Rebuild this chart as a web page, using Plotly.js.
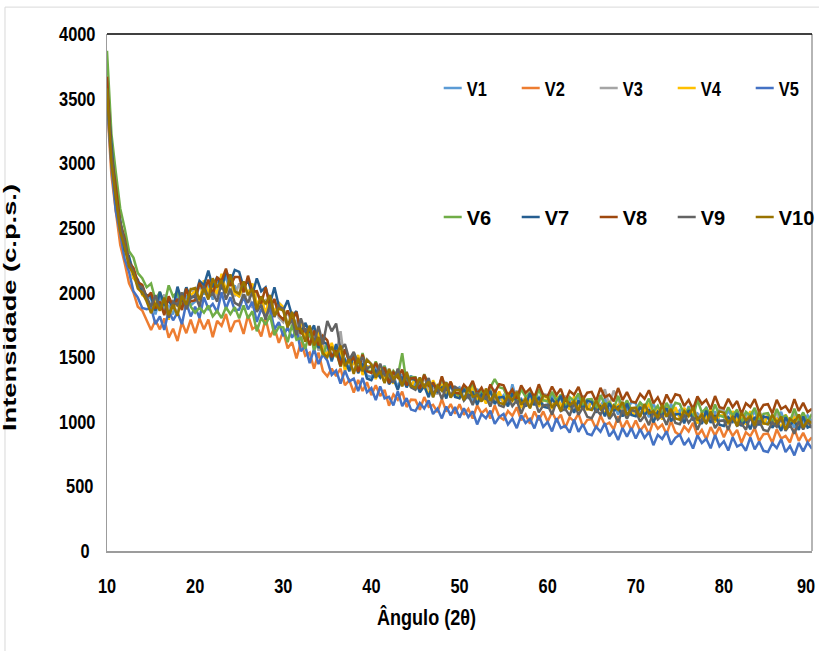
<!DOCTYPE html>
<html>
<head>
<meta charset="utf-8">
<script src="https://cdn.plot.ly/plotly-3.0.1.min.js"></script>
<style>
  html, body { margin: 0; padding: 0; background: #ffffff; }
  #chart { width: 819px; height: 651px; }
</style>
</head>
<body>
<div id="chart"></div>
<script>
// Angle grid (2θ): first angle and step of the measured points
const angleStart = 10;
const angleStep = 0.5;

const xTickVals = [10, 20, 30, 40, 50, 60, 70, 80, 90];
const yTickVals = [0, 500, 1000, 1500, 2000, 2500, 3000, 3500, 4000];

const seriesNames = ["V1", "V2", "V3", "V4", "V5", "V6", "V7", "V8", "V9", "V10"];
const seriesColors = ["#5B9BD5", "#ED7D31", "#A5A5A5", "#FFC000", "#4472C4",
                      "#70AD47", "#255E91", "#9E480E", "#636363", "#997300"];

// Intensities (c.p.s.), one value every 0.5° from 10° to 90°
const v1 = [
3580,3080,2730,2550,2340,2250,2110,2090,2000,1980,
1950,1830,1970,1865,1895,1830,1990,1875,1980,1900,
1930,2060,1985,2070,1945,2075,2040,2130,1985,2055,
1965,2050,1985,2065,1905,1955,1835,1955,1845,1920,
1885,1745,1785,1655,1775,1665,1690,1565,1690,1545,
1585,1465,1595,1475,1488,1402,1536,1392,1468,1356,
1346,1415,1364,1433,1310,1356,1266,1368,1287,1358,
1262,1342,1262,1310,1191,1280,1241,1306,1188,1246,
1266,1184,1228,1153,1254,1194,1225,1151,1252,1165,
1204,1131,1290,1160,1179,1128,1231,1138,1199,1127,
1132,1206,1140,1186,1085,1166,1135,1195,1094,1147,
1088,1155,1117,1184,1083,1129,1056,1151,1085,1152,
1142,1062,1108,1035,1137,1078,1110,1037,1139,1052,
1091,1018,1120,1047,1065,1013,1115,1021,1081,1008,
1012,1087,1022,1069,969,1051,1021,1082,982,1036,
978,1046,1009,1077,977,1024,952,1048,983,1051,
1000];

const v2 = [
3470,2910,2630,2370,2230,2070,2000,1890,1860,1790,
1710,1785,1715,1800,1650,1720,1625,1770,1685,1790,
1685,1800,1715,1790,1655,1780,1742,1834,1695,1775,
1784,1680,1825,1718,1740,1660,1798,1654,1728,1610,
1700,1568,1615,1490,1615,1510,1535,1410,1536,1392,
1352,1412,1352,1412,1282,1321,1226,1324,1238,1306,
1206,1283,1200,1246,1124,1211,1170,1234,1114,1171,
1169,1092,1191,1115,1130,1075,1175,1079,1137,1062,
1135,1054,1099,1025,1126,1066,1098,1025,1127,1040,
1016,1083,1045,1112,1011,1057,984,1079,1013,1080,
1000,1074,1008,1054,953,1034,1003,1063,962,1015,
1019,946,1048,975,993,941,1043,949,1009,936,
1010,930,976,903,1005,946,978,905,1007,920,
896,963,925,992,891,937,864,959,893,960,
880,955,890,937,837,919,889,950,850,904,
909,837,941,870,890,840,944,852,914,843,
880];

const v3 = [
3630,3060,2790,2530,2420,2260,2180,2060,2050,1970,
1880,1955,1890,1985,1845,1920,1830,1985,1910,2025,
2000,1915,2080,1990,2030,1970,2125,1995,2080,1970,
2070,1945,2000,1880,2010,1910,1940,1820,1950,1805,
1770,1855,1740,1785,1620,1715,1650,1715,1550,1610,
1510,1590,1520,1700,1440,1494,1378,1502,1398,1484,
1448,1349,1394,1303,1412,1338,1368,1278,1388,1283,
1322,1234,1346,1258,1275,1212,1325,1214,1280,1194,
1200,1272,1204,1248,1146,1226,1194,1253,1151,1204,
1145,1212,1174,1241,1141,1188,1116,1212,1147,1215,
1206,1126,1172,1099,1201,1142,1174,1101,1203,1116,
1155,1082,1184,1250,1129,1240,1179,1085,1145,1072,
1076,1150,1084,1130,1029,1110,1079,1139,1038,1091,
1032,1099,1061,1128,1027,1073,1000,1095,1029,1096,
1086,1007,1054,982,1085,1027,1060,988,1091,1005,
1045,973,1076,1004,1023,972,1075,982,1043,971,
1000];

const v4 = [
3570,3050,2700,2510,2335,2245,2110,2070,1980,1960,
1870,1960,1860,1925,1790,1920,1895,2000,1880,1980,
2010,1930,2095,2010,2050,1990,2145,2015,2100,1990,
1970,2055,1990,2070,1910,1960,1838,1956,1844,1920,
1886,1748,1790,1660,1780,1672,1696,1570,1696,1552,
1520,1610,1500,1550,1392,1496,1440,1516,1362,1430,
1422,1330,1439,1348,1361,1295,1405,1291,1354,1265,
1344,1248,1296,1208,1320,1249,1282,1195,1309,1207,
1183,1248,1208,1273,1170,1215,1141,1235,1168,1234,
1153,1227,1161,1207,1106,1187,1156,1216,1115,1168,
1172,1099,1201,1128,1146,1094,1196,1102,1162,1089,
1163,1083,1129,1056,1158,1099,1131,1058,1160,1073,
1049,1116,1078,1145,1044,1090,1017,1112,1046,1113,
1033,1107,1041,1087,986,1067,1036,1096,995,1048,
1052,980,1083,1011,1030,979,1082,989,1050,978,
1053,974,1022,951,1055,998,1032,961,1065,980,
995];

const v5 = [
3490,2980,2630,2460,2260,2160,2010,1960,1880,1870,
1880,1755,1815,1710,1860,1785,1845,1755,1920,1815,
1890,1802,1964,1874,1912,1848,2002,1874,1964,1862,
1868,1970,1870,1928,1772,1874,1814,1880,1716,1770,
1662,1732,1650,1718,1546,1584,1454,1564,1446,1520,
1473,1362,1396,1296,1396,1312,1334,1237,1340,1228,
1261,1167,1274,1181,1193,1126,1235,1121,1183,1094,
1083,1145,1102,1165,1060,1102,1026,1118,1049,1114,
1032,1104,1036,1081,979,1059,1027,1086,984,1036,
1060,979,1024,950,1051,991,1022,948,1049,961,
999,925,1026,952,969,916,1017,922,981,907,
896,962,923,989,887,932,858,952,885,951,
870,943,876,921,819,899,867,926,824,876,
900,820,866,793,895,836,868,795,897,810,
849,777,880,808,827,776,879,786,847,775,
766,834,797,865,765,812,740,836,771,839,
790];

const v6 = [
3870,3230,2930,2650,2500,2320,2270,2150,2110,2040,
2070,1940,2005,1905,2055,1970,2005,1890,2040,1890,
1844,1884,1844,1899,1815,1857,1802,1886,1832,1887,
1800,1900,1800,1855,1700,1805,1750,1825,1670,1735,
1730,1615,1750,1635,1650,1565,1700,1555,1630,1515,
1610,1485,1540,1425,1560,1468,1506,1394,1532,1400,
1388,1466,1384,1430,1308,1394,1352,1530,1292,1346,
1344,1256,1368,1280,1296,1232,1346,1236,1302,1216,
1208,1274,1235,1301,1199,1244,1171,1266,1330,1267,
1257,1177,1223,1150,1252,1193,1225,1152,1254,1167,
1157,1231,1165,1211,1110,1191,1160,1220,1119,1172,
1176,1103,1205,1132,1150,1098,1200,1106,1166,1093,
1083,1150,1112,1179,1078,1124,1051,1146,1080,1147,
1137,1057,1103,1030,1170,1073,1105,1032,1134,1047,
1037,1112,1047,1094,994,1076,1046,1107,1007,1061,
1066,995,1099,1028,1048,998,1102,1010,1072,1001,
1060];

const v7 = [
3580,3120,2720,2560,2330,2280,2140,2100,1990,1980,
1970,1860,2005,1905,1940,1880,2045,1930,2040,1960,
1970,2090,2055,2170,2040,2120,2025,2170,2080,2175,
2160,2040,2095,1980,2110,2010,2040,1915,2040,1895,
1860,1940,1820,1855,1680,1765,1690,1745,1570,1620,
1600,1475,1600,1475,1480,1390,1520,1375,1450,1335,
1322,1392,1342,1412,1290,1336,1246,1348,1266,1338,
1323,1228,1277,1190,1303,1232,1266,1180,1294,1192,
1182,1255,1188,1233,1131,1211,1179,1238,1136,1188,
1191,1119,1222,1150,1169,1118,1221,1128,1189,1117,
1108,1174,1135,1201,1099,1144,1070,1164,1097,1163,
1152,1071,1116,1042,1143,1083,1114,1040,1141,1053,
1042,1116,1050,1096,995,1076,1045,1105,1004,1057,
1061,988,1090,1017,1035,983,1085,991,1051,978,
968,1036,999,1067,967,1014,942,1038,973,1041,
1032,953,1001,929,1033,975,1009,937,1041,955,
970];

const v8 = [
3670,3070,2820,2540,2420,2230,2190,2080,2060,1960,
2000,1875,1930,1825,1970,1895,1950,1865,2030,1930,
1940,2075,2010,2100,1980,2115,2090,2185,2050,2120,
2120,2000,2130,2005,2010,1915,2040,1885,1950,1825,
1790,1860,1780,1850,1680,1720,1590,1705,1590,1665,
1630,1500,1550,1430,1560,1465,1500,1385,1520,1390,
1378,1456,1374,1420,1298,1384,1342,1404,1282,1336,
1339,1254,1364,1279,1298,1237,1352,1243,1310,1225,
1218,1286,1249,1317,1217,1264,1192,1288,1223,1291,
1282,1203,1250,1178,1281,1223,1257,1186,1290,1205,
1197,1272,1208,1255,1156,1238,1209,1270,1171,1225,
1231,1159,1262,1190,1209,1158,1261,1168,1229,1157,
1148,1215,1177,1244,1143,1189,1116,1211,1145,1212,
1202,1122,1168,1095,1197,1138,1170,1097,1199,1112,
1102,1177,1113,1160,1061,1143,1114,1175,1076,1130,
1136,1065,1170,1099,1120,1070,1175,1083,1146,1075,
1100];

const v9 = [
3570,3080,2730,2540,2390,2230,2160,2050,2040,1960,
1890,1980,1880,1945,1805,1930,1900,2000,1870,1960,
1980,1890,2050,1960,1995,1930,2080,1945,2030,1920,
1900,1985,1920,2005,1850,1905,1790,1915,1810,1895,
1870,1740,1790,1670,1800,1700,1730,1610,1740,1600,
1780,1700,1760,1560,1600,1480,1540,1450,1500,1410,
1434,1342,1450,1358,1370,1302,1411,1296,1357,1266,
1248,1318,1268,1338,1217,1264,1175,1278,1198,1270,
1248,1164,1206,1129,1227,1165,1194,1118,1217,1127,
1115,1188,1121,1166,1064,1145,1114,1174,1073,1126,
1130,1056,1157,1083,1100,1047,1148,1053,1112,1038,
1027,1094,1056,1123,1022,1068,995,1090,1024,1091,
1081,1001,1047,974,1076,1017,1049,976,1078,991,
981,1056,991,1038,938,1020,990,1051,951,1005,
1010,938,1041,969,988,937,1040,947,1008,936,
927,996,960,1029,930,978,907,1004,940,1009,
950];

const v10 = [
3580,3000,2740,2470,2350,2200,2150,2030,2000,1930,
1840,1920,1860,1960,1825,1905,1820,1975,1905,2025,
2035,1945,2030,1945,2110,2040,2095,1995,2140,2010,
1990,2085,1980,2030,1870,1970,1910,1980,1820,1875,
1860,1730,1850,1720,1720,1620,1745,1590,1655,1530,
1500,1580,1510,1590,1430,1485,1370,1495,1390,1478,
1444,1345,1390,1299,1408,1334,1364,1274,1384,1279,
1262,1342,1262,1310,1190,1279,1240,1305,1186,1244,
1243,1168,1268,1193,1209,1156,1257,1162,1221,1147,
1136,1203,1165,1232,1131,1177,1104,1199,1133,1200,
1190,1110,1156,1083,1185,1126,1158,1085,1187,1100,
1090,1164,1098,1144,1043,1124,1093,1153,1052,1105,
1109,1036,1138,1065,1083,1031,1133,1039,1099,1026,
1016,1083,1045,1112,1011,1057,984,1079,1013,1080,
1070,991,1038,966,1069,1011,1044,972,1075,989,
980,1055,991,1039,940,1023,994,1056,957,1012,
990];

const seriesValues = [v1, v2, v3, v4, v5, v6, v7, v8, v9, v10];

const baseFont = '"Liberation Sans", Arial, sans-serif';

const traces = seriesNames.map((name, i) => ({
  type: 'scatter',
  mode: 'lines',
  name: name,
  y: seriesValues[i],
  x0: angleStart,
  dx: angleStep,
  line: { color: seriesColors[i], width: 2.5 },
  legend: i < 5 ? 'legend' : 'legend2'
}));

const legendCommon = {
  orientation: 'h',
  xanchor: 'left',
  yanchor: 'middle',
  bgcolor: 'rgba(0,0,0,0)',
  borderwidth: 0,
  font: { family: baseFont, size: 20, color: '#000000', weight: 'bold' },
  entrywidth: 33,
  entrywidthmode: 'pixels',
  itemwidth: 30,
  tracegroupgap: 0
};

const layout = {
  width: 819,
  height: 651,
  margin: { l: 107, r: 7, t: 34, b: 100, pad: 0, autoexpand: false },
  paper_bgcolor: '#ffffff',
  plot_bgcolor: '#ffffff',
  showlegend: true,
  legend: Object.assign({}, legendCommon, { x: 0.4535, y: 0.8956 }),
  legend2: Object.assign({}, legendCommon, { x: 0.4535, y: 0.646 }),
  xaxis: {
    range: [10, 90],
    tickvals: xTickVals,
    ticktext: xTickVals.map(String),
    showgrid: false,
    zeroline: false,
    showline: true,
    linecolor: '#9c9c9c',
    linewidth: 2,
    ticks: '',
    ticklabelstandoff: 16,
    ticklabeloverflow: 'allow',
    tickfont: { family: baseFont, size: 20, color: '#000000', weight: 'bold' },
    title: {
      text: 'Ângulo (2θ)',
      font: { family: baseFont, size: 22, color: '#000000', weight: 'bold' },
      standoff: 14
    }
  },
  yaxis: {
    range: [0, 4000],
    tickvals: yTickVals,
    ticktext: yTickVals.map(String),
    showgrid: false,
    zeroline: false,
    showline: true,
    linecolor: '#9c9c9c',
    linewidth: 1.5,
    ticks: '',
    ticklabelstandoff: 14,
    tickfont: { family: baseFont, size: 20, color: '#000000', weight: 'bold' },
    title: {
      text: 'Intensidade (c.p.s.)',
      font: { family: baseFont, size: 18, color: '#000000', weight: 'bold' },
      standoff: 24
    }
  },
  shapes: [
    { type: 'line', xref: 'paper', yref: 'paper', x0: 1, x1: 1, y0: 0, y1: 1,
      line: { color: '#9c9c9c', width: 1.5 } },
    { type: 'line', xref: 'paper', yref: 'paper', x0: 0, x1: 1, y0: 1, y1: 1,
      line: { color: '#000000', width: 1.5 } },
    { type: 'rect', xref: 'paper', yref: 'paper', x0: -0.1447, x1: 1.05, y0: -0.25, y1: 1.052,
      line: { color: '#d9d9d9', width: 1 }, layer: 'below' }
  ]
};

// Narrow the lettering (Arial Narrow look); right-anchored labels keep their right edge
function condenseText(el, factor) {
  const w = el.getComputedTextLength();
  if (!(w > 0)) return;
  const anchor = el.getAttribute('text-anchor') || window.getComputedStyle(el).textAnchor || 'start';
  el.setAttribute('textLength', (w * factor).toFixed(1));
  el.setAttribute('lengthAdjust', 'spacingAndGlyphs');
  if (anchor === 'end') {
    const x0 = parseFloat(el.getAttribute('x') || '0');
    el.setAttribute('x', (x0 + w * (1 - factor)).toFixed(2));
  }
}

const gd = document.getElementById('chart');
Plotly.newPlot(gd, traces, layout, { staticPlot: true, displayModeBar: false }).then(() => {
  gd.querySelectorAll('.xtick text, .ytick text, .legendtext, .xtitle').forEach(el => condenseText(el, 0.82));
  // keep the last x label ("90") fully inside the picture
  gd.querySelectorAll('.xtick text').forEach(el => {
    if (el.textContent.trim() === String(xTickVals[xTickVals.length - 1])) {
      const x0 = parseFloat(el.getAttribute('x') || '0');
      el.setAttribute('x', (x0 - 6).toFixed(2));
    }
  });
  const xt = gd.querySelector('.xtitle');
  if (xt) xt.setAttribute('dx', '-33');
  const t = gd.querySelector('.ytitle');
  if (t) {
    t.setAttribute('textLength', '247');
    t.setAttribute('lengthAdjust', 'spacingAndGlyphs');
    t.setAttribute('dx', '-15');
  }
  gd.querySelectorAll('.legendlines path').forEach(p => p.setAttribute('d', 'M17,0h18'));
});
</script>
</body>
</html>
